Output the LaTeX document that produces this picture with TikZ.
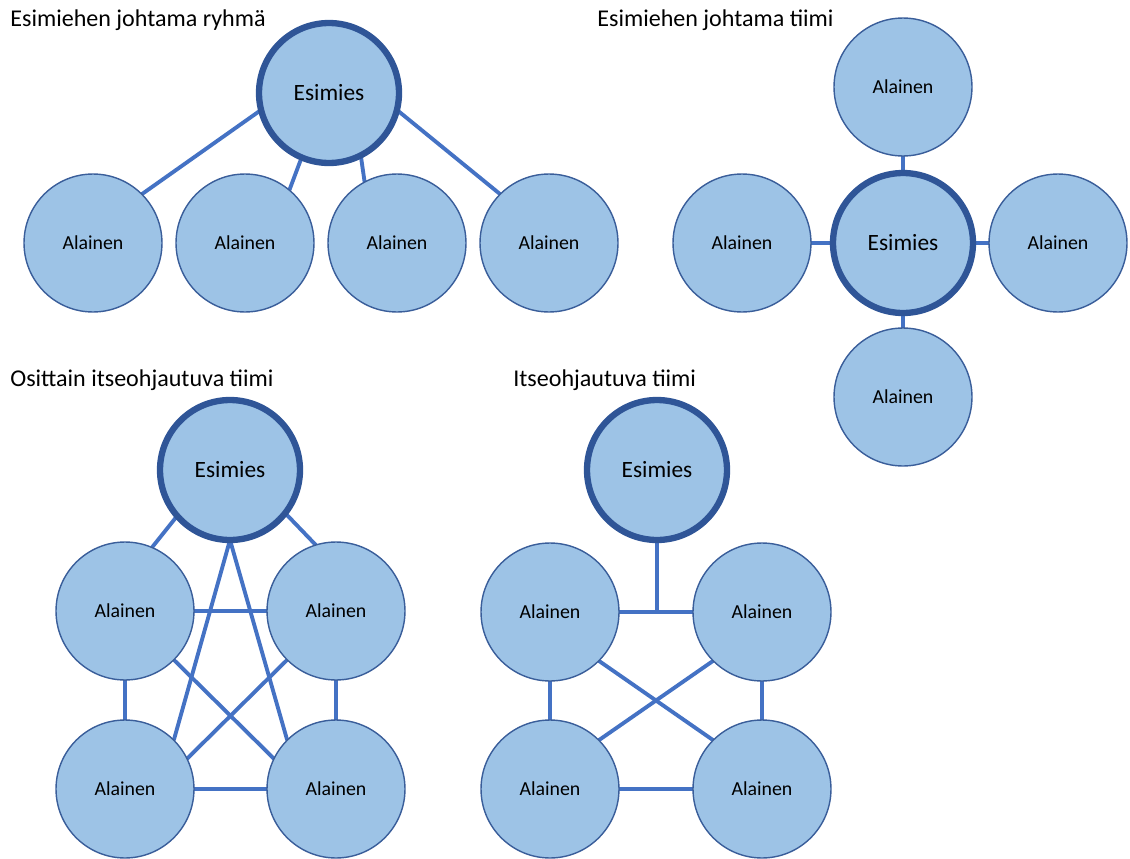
\documentclass[tikz,border=0pt]{standalone}
\usepackage{fontspec}
\setmainfont{Carlito}
\usetikzlibrary{backgrounds}
\definecolor{fillblue}{HTML}{9DC3E6}
\definecolor{thinedge}{HTML}{3A5E9A}
\definecolor{thickedge}{HTML}{2F5597}
\definecolor{linkblue}{HTML}{4472C4}
\tikzset{
  member/.style={circle, fill=fillblue, draw=thinedge, line width=0.8pt,
    minimum size=2.76cm, inner sep=0pt, outer sep=0pt, font=\fontsize{11.3}{13}\selectfont},
  boss/.style={circle, fill=fillblue, draw=thickedge, line width=3.6pt,
    minimum size=2.8cm, inner sep=0pt, outer sep=0pt, font=\fontsize{13.3}{15}\selectfont},
  link/.style={draw=linkblue, line width=2.2pt},
  title/.style={anchor=base west, inner sep=0pt, font=\fontsize{13.7}{15}\selectfont}
}
\begin{document}
\begin{tikzpicture}[x=0.02cm,y=-0.02cm]
\useasboundingbox (0,0) rectangle (1130,859);
% titles
\node[title] (t1) at (10,26) {Esimiehen johtama ryhmä};
\node[title] (t2) at (597,26) {Esimiehen johtama tiimi};
\node[title] (t3) at (10,386) {Osittain itseohjautuva tiimi};
\node[title] (t4) at (513,386) {Itseohjautuva tiimi};
% panel 1
\node[boss] (e1) at (329,93) {Esimies};
\node[member] (a11) at (93,243) {Alainen};
\node[member] (a12) at (245,243) {Alainen};
\node[member] (a13) at (397,243) {Alainen};
\node[member] (a14) at (549,243) {Alainen};
% panel 2
\node[boss] (e2) at (903,243) {Esimies};
\node[member] (a2t) at (903,87) {Alainen};
\node[member] (a2l) at (742,243) {Alainen};
\node[member] (a2r) at (1058,243) {Alainen};
\node[member] (a2b) at (903,397) {Alainen};
% panel 3
\node[boss] (e3) at (230,470) {Esimies};
\node[member] (a3tl) at (125,611) {Alainen};
\node[member] (a3tr) at (336,611) {Alainen};
\node[member] (a3bl) at (125,789) {Alainen};
\node[member] (a3br) at (336,789) {Alainen};
% panel 4
\node[boss] (e4) at (657,470) {Esimies};
\node[member] (a4tl) at (550,612) {Alainen};
\node[member] (a4tr) at (762,612) {Alainen};
\node[member] (a4bl) at (550,789) {Alainen};
\node[member] (a4br) at (762,789) {Alainen};
\begin{scope}[on background layer]
% panel 1
\draw[link] (a11.45) -- (e1.194);
\draw[link] (a12.50) -- (e1.247);
\draw[link] (a13.118) -- (e1.297);
\draw[link] (a14.135) -- (e1.346);
% panel 2
\draw[link] (a2t.south) -- (e2.north);
\draw[link] (a2b.north) -- (e2.south);
\draw[link] (a2l.east) -- (e2.west);
\draw[link] (a2r.west) -- (e2.east);
% panel 3
\draw[link] (e3.221) -- (a3tl.67);
\draw[link] (e3.322) -- (a3tr.107);
\draw[link] (e3.south) -- (a3bl.45);
\draw[link] (e3.south) -- (a3br.135);
\draw[link] (a3tl.east) -- (a3tr.west);
\draw[link] (a3bl.east) -- (a3br.west);
\draw[link] (a3tl.south) -- (a3bl.north);
\draw[link] (a3tr.south) -- (a3br.north);
\draw[link] (a3tl.315) -- (a3br.154);
\draw[link] (a3tr.225) -- (a3bl.26);
% panel 4
\coordinate (j4) at (e4.south |- a4tl.east);
\draw[link] (e4.south) -- (j4);
\draw[link] (a4tl.east) -- (a4tr.west);
\draw[link] (a4bl.east) -- (a4br.west);
\draw[link] (a4tl.south) -- (a4bl.north);
\draw[link] (a4tr.south) -- (a4br.north);
\draw[link] (a4tl.315) -- (a4br.135);
\draw[link] (a4tr.225) -- (a4bl.45);
\end{scope}
\end{tikzpicture}
\end{document}
